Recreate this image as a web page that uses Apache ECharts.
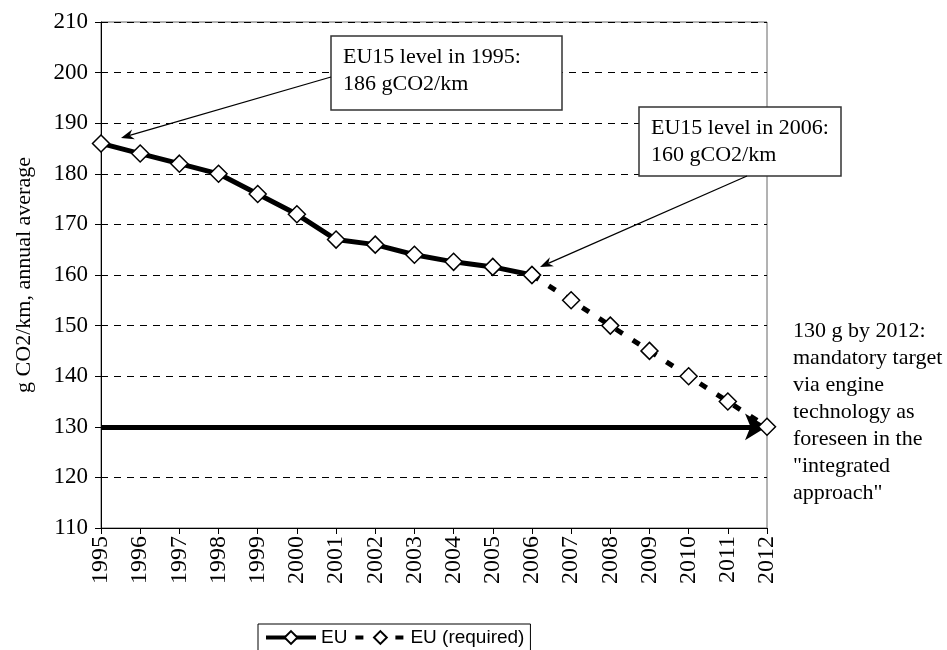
<!DOCTYPE html>
<html>
<head>
<meta charset="utf-8">
<script src="https://cdn.jsdelivr.net/npm/echarts@6/dist/echarts.min.js"></script>
<style>
  html, body { margin: 0; padding: 0; background: #fff; }
  #main { width: 947px; height: 650px; }
</style>
</head>
<body>
<div id="main"></div>
<script>
// data
var years = ['1995','1996','1997','1998','1999','2000','2001','2002','2003','2004','2005','2006','2007','2008','2009','2010','2011','2012'];
var euValues = [186, 184, 182, 180, 176, 172, 167, 166, 164, 162.6, 161.6, 160];
var requiredYears = ['2006','2007','2008','2009','2010','2011','2012'];
var requiredValues = [160, 155, 150, 145, 140, 135, 130];
var targetValue = 130;
var yTicks = [110, 120, 130, 140, 150, 160, 170, 180, 190, 200, 210];

var serif = "'Liberation Serif', 'Times New Roman', serif";
var sans = "'Liberation Sans', Arial, sans-serif";

// series data aligned to the category axis
var euData = years.map(function (y, i) { return i < euValues.length ? euValues[i] : null; });
var reqData = years.map(function (y) {
  var k = requiredYears.indexOf(y);
  return k >= 0 ? requiredValues[k] : null;
});

// thin callout arrow, pixel space
function arrow(x1, y1, x2, y2) {
  var dx = x2 - x1, dy = y2 - y1;
  var len = Math.sqrt(dx * dx + dy * dy);
  var ux = dx / len, uy = dy / len;
  var nx = -uy, ny = ux;
  var bx = x2 - ux * 13, by = y2 - uy * 13;
  var mx = x2 - ux * 9, my = y2 - uy * 9;
  return [
    { type: 'line', shape: { x1: x1, y1: y1, x2: mx, y2: my }, style: { stroke: '#000', lineWidth: 1.3 }, z: 50 },
    { type: 'polygon', shape: { points: [[x2, y2], [bx + nx * 5, by + ny * 5], [mx, my], [bx - nx * 5, by - ny * 5]] },
      style: { fill: '#000' }, z: 50 }
  ];
}

function box(x, y, w, h, lines) {
  return [
    { type: 'rect', shape: { x: x, y: y, width: w, height: h },
      style: { fill: '#fff', stroke: '#333', lineWidth: 1.5 }, z: 40 },
    { type: 'text', x: x + 12, y: y + 8, z: 41,
      style: { text: lines.join('\n'), font: '22px ' + serif, fill: '#000', lineHeight: 27 } }
  ];
}

var graphics = []
  .concat(box(331, 36, 231, 74, ['EU15 level in 1995:', '186 gCO2/km']))
  .concat(box(639, 107, 202, 69, ['EU15 level in 2006:', '160 gCO2/km']))
  .concat(arrow(331, 77, 121, 138))
  .concat(arrow(747, 176, 540, 267))
  .concat([{
    type: 'text', x: 793, y: 318, z: 41,
    style: {
      text: '130 g by 2012:\nmandatory target\nvia engine\ntechnology as\nforeseen in the\n"integrated\napproach"',
      font: '22px ' + serif, fill: '#000', lineHeight: 27
    }
  }]);

var chart = echarts.init(document.getElementById('main'));
var option = {
  animation: false,
  backgroundColor: '#fff',
  grid: {
    left: 101, right: 180, top: 22, bottom: 122,
    show: true, borderColor: '#666', borderWidth: 1
  },
  legend: {
    left: 258, top: 624,
    data: ['EU', 'EU (required)'],
    itemWidth: 50, itemHeight: 16, itemGap: 6,
    lineStyle: { width: 4 },
    borderColor: '#000', borderWidth: 1, padding: [4, 6, 8, 6],
    textStyle: { fontFamily: sans, fontSize: 19, color: '#000' }
  },
  xAxis: {
    type: 'category',
    data: years,
    boundaryGap: false,
    axisLine: { lineStyle: { color: '#000', width: 1 } },
    axisTick: { length: 6, lineStyle: { color: '#000' } },
    axisLabel: { rotate: 90, margin: 8, color: '#000', fontFamily: serif, fontSize: 24, interval: 0 },
    splitLine: { show: false }
  },
  yAxis: {
    type: 'value',
    min: yTicks[0], max: yTicks[yTicks.length - 1], interval: 10,
    name: 'g CO2/km, annual average',
    nameLocation: 'middle', nameGap: 66,
    nameTextStyle: { fontFamily: serif, fontSize: 22, color: '#000' },
    axisLine: { show: true, lineStyle: { color: '#000', width: 1 } },
    axisTick: { show: true, length: 6, lineStyle: { color: '#000' } },
    axisLabel: { color: '#000', fontFamily: serif, fontSize: 23, margin: 13 },
    splitLine: { lineStyle: { color: '#000', width: 1, type: [7, 6] } }
  },
  series: [
    {
      name: 'EU (required)',
      type: 'line',
      data: reqData,
      symbol: 'diamond', symbolSize: 17,
      lineStyle: { color: '#000', width: 5, type: [8, 12] },
      itemStyle: { color: '#fff', borderColor: '#000', borderWidth: 1.5 },
      z: 3
    },
    {
      name: 'EU',
      type: 'line',
      data: euData,
      symbol: 'diamond', symbolSize: 17,
      lineStyle: { color: '#000', width: 5 },
      itemStyle: { color: '#fff', borderColor: '#000', borderWidth: 1.5 },
      z: 4,
      markLine: {
        silent: true,
        symbol: ['none', 'arrow'],
        symbolSize: [20, 22],
        label: { show: false },
        lineStyle: { color: '#000', width: 5, type: 'solid' },
        data: [[{ coord: [0, targetValue] }, { coord: [years.length - 1, targetValue] }]],
        z: 2
      }
    }
  ],
  graphic: graphics
};
chart.setOption(option);
</script>
</body>
</html>
